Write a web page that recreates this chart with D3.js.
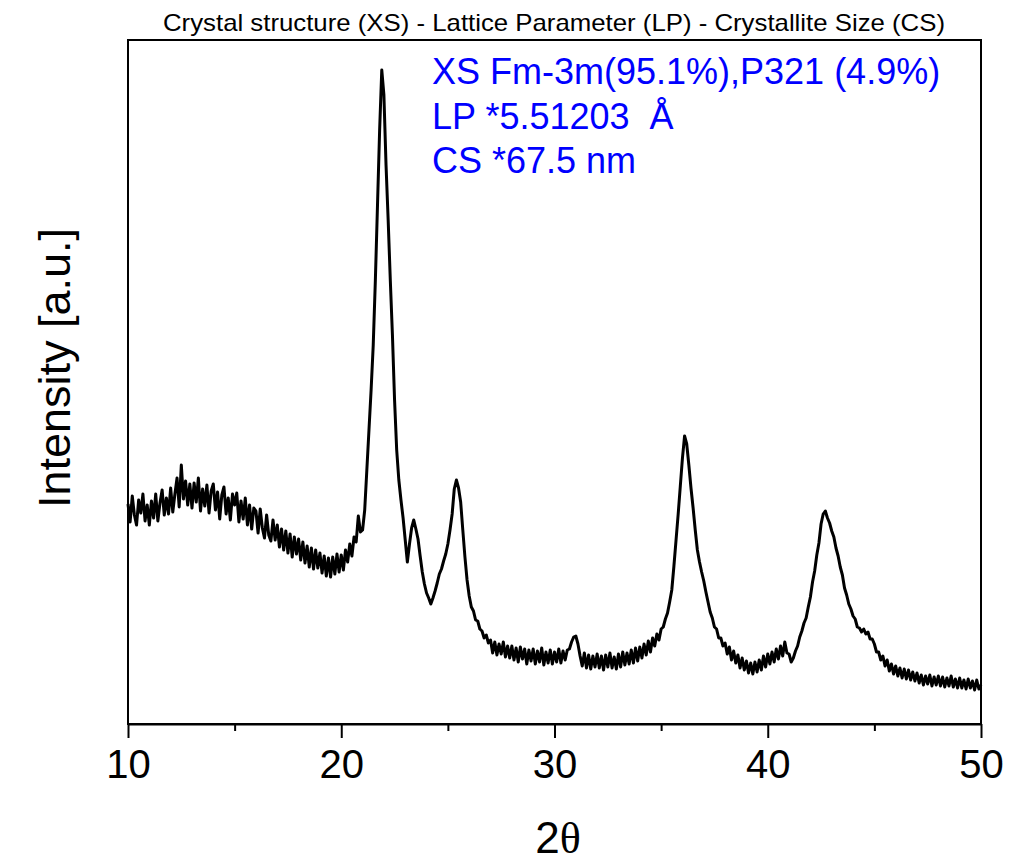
<!DOCTYPE html>
<html>
<head>
<meta charset="utf-8">
<script src="https://cdn.jsdelivr.net/npm/d3@7"></script>
<style>
  body { margin: 0; background: #fff; }
  svg { display: block; font-family: "Liberation Sans", Arial, sans-serif; }
</style>
</head>
<body>
<svg width="1011" height="865"></svg>
<script>
// XRD pattern, 2theta from 10 to 50 deg, step 0.1 deg, intensity in a.u.
var twoThetaStart = 10;
var twoThetaStep = 0.1;
var intensity = [
  220, 202, 228, 209, 199, 224, 211, 230, 203, 219,   // 10
  199, 223, 206, 230, 203, 221, 234, 209, 226, 210,   // 11
  236, 212, 230, 246, 217, 259, 225, 243, 219, 240,   // 12
  216, 241, 222, 246, 213, 235, 218, 239, 211, 233,   // 13
  240, 214, 232, 205, 229, 237, 210, 226, 204, 230,   // 14
  219, 231, 202, 223, 205, 226, 199, 219, 195, 216,   // 15
  213, 191, 215, 196, 186, 209, 189, 183, 204, 184,   // 16
  199, 177, 195, 174, 193, 171, 190, 167, 187, 170,   // 17
  185, 164, 182, 161, 178, 157, 176, 155, 174, 156,   // 18
  171, 151, 168, 148, 166, 147, 167, 150, 170, 152,   // 19
  169, 154, 174, 162, 180, 168, 187, 182, 208, 192,   // 20
  194, 214, 254, 294, 334, 379, 444, 519, 594, 654,   // 21
  629, 559, 504, 444, 389, 324, 274, 244, 224, 206,   // 22
  184, 162, 180, 196, 204, 195, 185, 168, 152, 140,   // 23
  131, 126, 120, 126, 133, 141, 150, 155, 163, 170,   // 24
  180, 194, 210, 235, 244, 236, 222, 194, 167, 144,   // 25
  128, 117, 113, 104, 103, 95, 93, 86, 89, 81,        // 26
  84, 71, 82, 69, 80, 70, 82, 67, 78, 66,             // 27
  78, 64, 76, 62, 77, 65, 75, 60, 74, 63,             // 28
  75, 60, 73, 62, 76, 59, 72, 61, 74, 60,             // 29
  72, 62, 75, 61, 73, 64, 74, 75, 82, 87,             // 30
  88, 80, 68, 58, 71, 56, 69, 55, 68, 57,             // 31
  70, 56, 68, 54, 69, 57, 71, 56, 67, 55,             // 32
  70, 57, 72, 59, 71, 60, 74, 61, 76, 63,             // 33
  77, 66, 80, 69, 83, 72, 86, 78, 90, 84,             // 34
  95, 97, 105, 111, 122, 134, 158, 184, 210, 238,     // 35
  266, 288, 280, 259, 236, 216, 194, 174, 162, 152,   // 36
  143, 132, 122, 112, 106, 97, 95, 86, 86, 78,        // 37
  81, 70, 77, 64, 73, 61, 69, 56, 66, 54,             // 38
  63, 51, 61, 50, 62, 52, 64, 54, 68, 57,             // 39
  70, 60, 72, 62, 75, 65, 78, 68, 82, 71,             // 40
  70, 62, 66, 73, 78, 87, 93, 101, 106, 117,          // 41
  127, 142, 153, 169, 181, 200, 210, 213, 206, 201,   // 42
  193, 187, 176, 168, 157, 149, 136, 129, 120, 115,   // 43
  108, 105, 97, 96, 92, 95, 90, 92, 85, 85,           // 44
  80, 72, 72, 64, 68, 58, 64, 53, 60, 50,             // 45
  58, 48, 56, 46, 55, 45, 54, 44, 52, 43,             // 46
  51, 41, 49, 39, 48, 40, 49, 38, 47, 39,             // 47
  48, 38, 47, 37, 46, 38, 48, 37, 45, 36,             // 48
  46, 36, 44, 35, 45, 36, 43, 34, 44, 35,             // 49
  39                                                  // 50
];
var majorTicks = [10, 20, 30, 40, 50];
var minorTicks = [15, 25, 35, 45];
var title = "Crystal structure (XS) - Lattice Parameter (LP) - Crystallite Size (CS)";
var notes = ["XS Fm-3m(95.1%),P321 (4.9%)", "LP *5.51203 \u00A0\u00C5", "CS *67.5 nm"];

var svg = d3.select("svg");
// note: "top" is taken by window.top, so prefix the plot edges
var plotL = 128, plotR = 981, plotT = 40, plotB = 724;

var x = d3.scaleLinear().domain([10, 50]).range([plotL, plotR]);
var y = d3.scaleLinear().domain([0, 684]).range([plotB, plotT]);

var data = intensity.map(function(v, i) {
    return {tt: twoThetaStart + i * twoThetaStep, v: v};
});

// frame
svg.append("rect")
    .attr("x", plotL)
    .attr("y", plotT)
    .attr("width", plotR - plotL)
    .attr("height", plotB - plotT)
    .attr("fill", "none")
    .attr("stroke", "#000")
    .attr("stroke-width", 2);

// pattern
svg.append("path")
    .datum(data)
    .attr("fill", "none")
    .attr("stroke", "#000")
    .attr("stroke-width", 3)
    .attr("stroke-linejoin", "round")
    .attr("d", d3.line().x(function(d) { return x(d.tt); }).y(function(d) { return y(d.v); }));

// x axis
var ax = svg.append("g")
    .attr("transform", "translate(0," + plotB + ")")
    .call(d3.axisBottom(x).tickValues(majorTicks).tickSize(14).tickSizeOuter(0).tickPadding(12));
ax.select(".domain").attr("stroke-width", 2);
ax.selectAll(".tick line").attr("stroke-width", 2);
ax.selectAll(".tick text")
    .attr("font-size", 40)
    .attr("font-family", "Liberation Sans, Arial, sans-serif")
    .attr("fill", "#000");

var axm = svg.append("g")
    .attr("transform", "translate(0," + plotB + ")")
    .call(d3.axisBottom(x).tickValues(minorTicks).tickSize(7).tickSizeOuter(0).tickFormat(""));
axm.select(".domain").remove();
axm.selectAll(".tick line").attr("stroke-width", 2);

// title
svg.append("text")
    .attr("x", 554)
    .attr("y", 31)
    .attr("text-anchor", "middle")
    .attr("font-size", 24)
    .attr("textLength", 782)
    .attr("lengthAdjust", "spacingAndGlyphs")
    .text(title);

// axis labels
var xl = svg.append("text")
    .attr("x", 558)
    .attr("y", 853)
    .attr("text-anchor", "middle")
    .attr("font-size", 44);
xl.append("tspan").text("2");
xl.append("tspan").attr("font-family", "Liberation Serif, Times New Roman, serif").text("\u03B8");

svg.append("text")
    .attr("transform", "translate(70,368) rotate(-90)")
    .attr("text-anchor", "middle")
    .attr("font-size", 45)
    .text("Intensity [a.u.]");

// annotation
svg.append("g").selectAll("text")
    .data(notes)
    .enter().append("text")
    .attr("x", 432)
    .attr("y", function(d, i) { return 84 + i * 44.5; })
    .attr("font-size", 36)
    .attr("fill", "#0000ff")
    .text(function(d) { return d; });
</script>
</body>
</html>
